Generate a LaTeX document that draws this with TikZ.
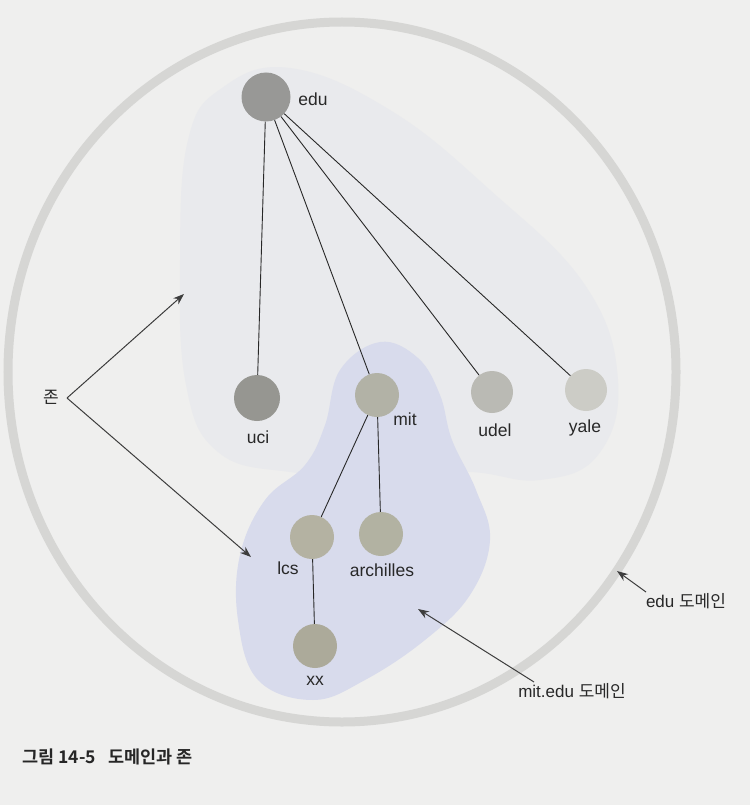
\documentclass[tikz,border=0pt]{standalone}
\usepackage{fontspec}
\setmainfont{Liberation Sans}
\newfontfamily\kr{Noto Sans CJK KR}
\newfontfamily\krb{Noto Sans CJK KR Bold}
\usetikzlibrary{arrows.meta}
\definecolor{bg}{RGB}{239,239,238}
\definecolor{ring}{RGB}{214,214,212}
\definecolor{zonegray}{RGB}{233,234,237}
\definecolor{zoneblue}{RGB}{216,219,236}
\definecolor{ink}{RGB}{40,40,40}
\definecolor{cedu}{RGB}{152,152,150}
\definecolor{cuci}{RGB}{150,150,145}
\definecolor{cmit}{RGB}{178,178,166}
\definecolor{cudel}{RGB}{186,186,180}
\definecolor{cyale}{RGB}{204,204,198}
\definecolor{clcs}{RGB}{180,178,162}
\definecolor{carch}{RGB}{178,178,162}
\definecolor{cxx}{RGB}{172,170,154}
\tikzset{
  host/.style={circle, draw=none, minimum size=44pt, inner sep=0pt},
  lbl/.style={font=\fontsize{17.5}{20}\selectfont, text=ink, inner sep=0pt},
  klbl/.style={font=\fontsize{17}{20}\selectfont, text=ink, inner sep=0pt},
  edge/.style={draw=ink, line width=0.9pt},
  pointer/.style={draw=ink!90, line width=1pt, -{Stealth[length=11pt,width=8pt]}}
}
\begin{document}
\begin{tikzpicture}[x=1pt,y=-1pt]
\fill[bg] (0,0) rectangle (750,805);
\useasboundingbox (0,0) rectangle (750,805);
% edu zone (faint)
\fill[zonegray] plot[smooth cycle, tension=0.7] coordinates {
 (188,140) (222,88) (290,68) (390,110) (490,190) (585,285) (618,380) (598,455) (540,480) (470,472) (380,474) (290,472) (218,452) (186,385) (180,260)};
% big edu domain ring
\draw[ring, line width=9pt] (342,372) ellipse [x radius=334pt, y radius=350pt];
% mit zone (blue)
\fill[zoneblue] plot[smooth cycle, tension=0.65] coordinates {
 (380,342) (418,358) (440,395) (452,440) (476,490) (490,540) (470,595) (425,640) (365,680) (313,700) (258,680) (238,620) (240,555) (265,500) (305,465) (325,425) (340,370)};
% hosts
\node[host, fill=cedu, minimum size=49pt] (edu) at (266,97) {};
\node[host, fill=cuci, minimum size=46pt] (uci) at (257,398) {};
\node[host, fill=cmit] (mit) at (377,395) {};
\node[host, fill=cudel, minimum size=42pt] (udel) at (492,392) {};
\node[host, fill=cyale, minimum size=42pt] (yale) at (586,390) {};
\node[host, fill=clcs] (lcs) at (312,537) {};
\node[host, fill=carch] (arch) at (381,534) {};
\node[host, fill=cxx] (xx) at (315,646) {};
% labels
\node[lbl] (ledu) at (313,99) {edu};
\node[lbl] (luci) at (258,437) {uci};
\node[lbl] (lmit) at (405,419) {mit};
\node[lbl] (ludel) at (495,430) {udel};
\node[lbl] (lyale) at (585,428) {yale};
\node[lbl] (llcs) at (288,568) {lcs};
\node[lbl] (larch) at (382,570) {archilles};
\node[lbl] (lxx) at (315,681) {xx};
% tree edges
\draw[edge] (edu) -- (uci);
\draw[edge] (edu) -- (mit);
\draw[edge] (edu) -- (udel);
\draw[edge] (edu) -- (yale);
\draw[edge] (mit) -- (lcs);
\draw[edge] (mit) -- (arch);
\draw[edge] (lcs) -- (xx);
% zone labels and pointers
\node[klbl] (zone) at (51,397) {\kr 존};
\coordinate (z0) at (67,398);
\coordinate (zt1) at (184,294);
\coordinate (zt2) at (251,557);
\draw[pointer] (z0) -- (zt1);
\draw[pointer] (z0) -- (zt2);
\node[klbl] (edudom) at (686,601) {edu {\kr 도메인}};
\coordinate (ed0) at (646,592);
\coordinate (edt) at (617,571);
\draw[pointer] (ed0) -- (edt);
\node[klbl] (mitdom) at (572,691) {mit.edu {\kr 도메인}};
\coordinate (md0) at (534,682);
\coordinate (mdt) at (418,609);
\draw[pointer] (md0) -- (mdt);
% caption
\node[anchor=west, inner sep=0pt, font=\krb\fontsize{17.5}{20}\selectfont, text=black!85] (cap) at (22,757) {그림 14-5\hspace{0.7em}도메인과 존};
\end{tikzpicture}
\end{document}
